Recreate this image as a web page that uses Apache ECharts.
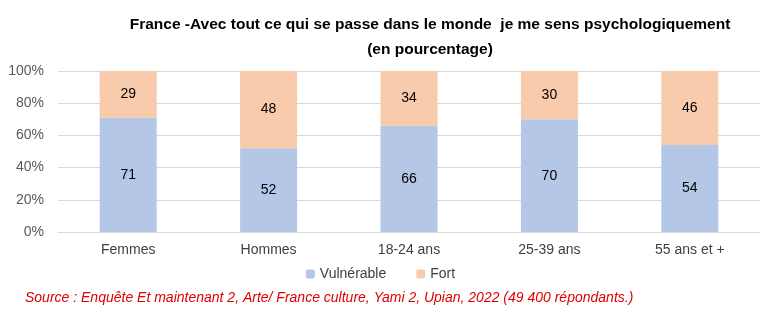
<!DOCTYPE html>
<html><head><meta charset="utf-8">
<script src="https://cdn.jsdelivr.net/npm/echarts@6/dist/echarts.min.js"></script>
<style>html,body{margin:0;padding:0;background:#fff}#c{width:761px;height:322px}</style>
</head><body><div id="c"></div>
<script>
const categories = ['Femmes', 'Hommes', '18-24 ans', '25-39 ans', '55 ans et +'];
const vulnerable = [71, 52, 66, 70, 54];
const fort = [29, 48, 34, 30, 46];
const yTicks = [0, 20, 40, 60, 80, 100];
const FONT = "'Liberation Sans', sans-serif";
const chart = echarts.init(document.getElementById('c'));
chart.setOption({
  animation: false,
  textStyle: { fontFamily: FONT },
  title: {
    text: 'France -Avec tout ce qui se passe dans le monde  je me sens psychologiquement\n(en pourcentage)',
    left: 425, top: 7, textAlign: 'center',
    textStyle: { fontFamily: FONT, fontWeight: 'bold', fontSize: 15.5, color: '#000', lineHeight: 25 }
  },
  legend: {
    bottom: 36, left: 'center', itemWidth: 9, itemHeight: 9, itemGap: 30,
    textStyle: { fontFamily: FONT, fontSize: 14, color: '#404040' },
    data: ['Vulnérable', 'Fort']
  },
  graphic: [{
    type: 'text', left: 25, top: 291,
    style: { text: 'Source : Enquête Et maintenant 2, Arte/ France culture, Yami 2, Upian, 2022 (49 400 répondants.)',
      fill: '#E00000', fontStyle: 'italic', fontSize: 14, fontFamily: FONT }
  }],
  grid: { left: 58, right: 1, top: 71, bottom: 90, containLabel: false },
  xAxis: {
    type: 'category', data: categories,
    axisLine: { lineStyle: { color: '#d9d9d9' } }, axisTick: { show: false },
    axisLabel: { color: '#404040', fontSize: 14, margin: 11, fontFamily: FONT }
  },
  yAxis: {
    type: 'value', min: yTicks[0], max: yTicks[yTicks.length - 1], interval: 20,
    axisLabel: { formatter: '{value}%', color: '#595959', fontSize: 14, margin: 14, fontFamily: FONT },
    splitLine: { lineStyle: { color: '#d9d9d9' } },
    axisLine: { show: false }, axisTick: { show: false }
  },
  series: [
    { name: 'Vulnérable', type: 'bar', stack: 't', data: vulnerable, barWidth: 57,
      itemStyle: { color: '#B4C7E7' },
      label: { show: true, position: 'inside', color: '#000', fontSize: 14, fontFamily: FONT } },
    { name: 'Fort', type: 'bar', stack: 't', data: fort, barWidth: 57,
      itemStyle: { color: '#F8CBAD' },
      label: { show: true, position: 'inside', color: '#000', fontSize: 14, fontFamily: FONT } }
  ]
});
</script></body></html>
